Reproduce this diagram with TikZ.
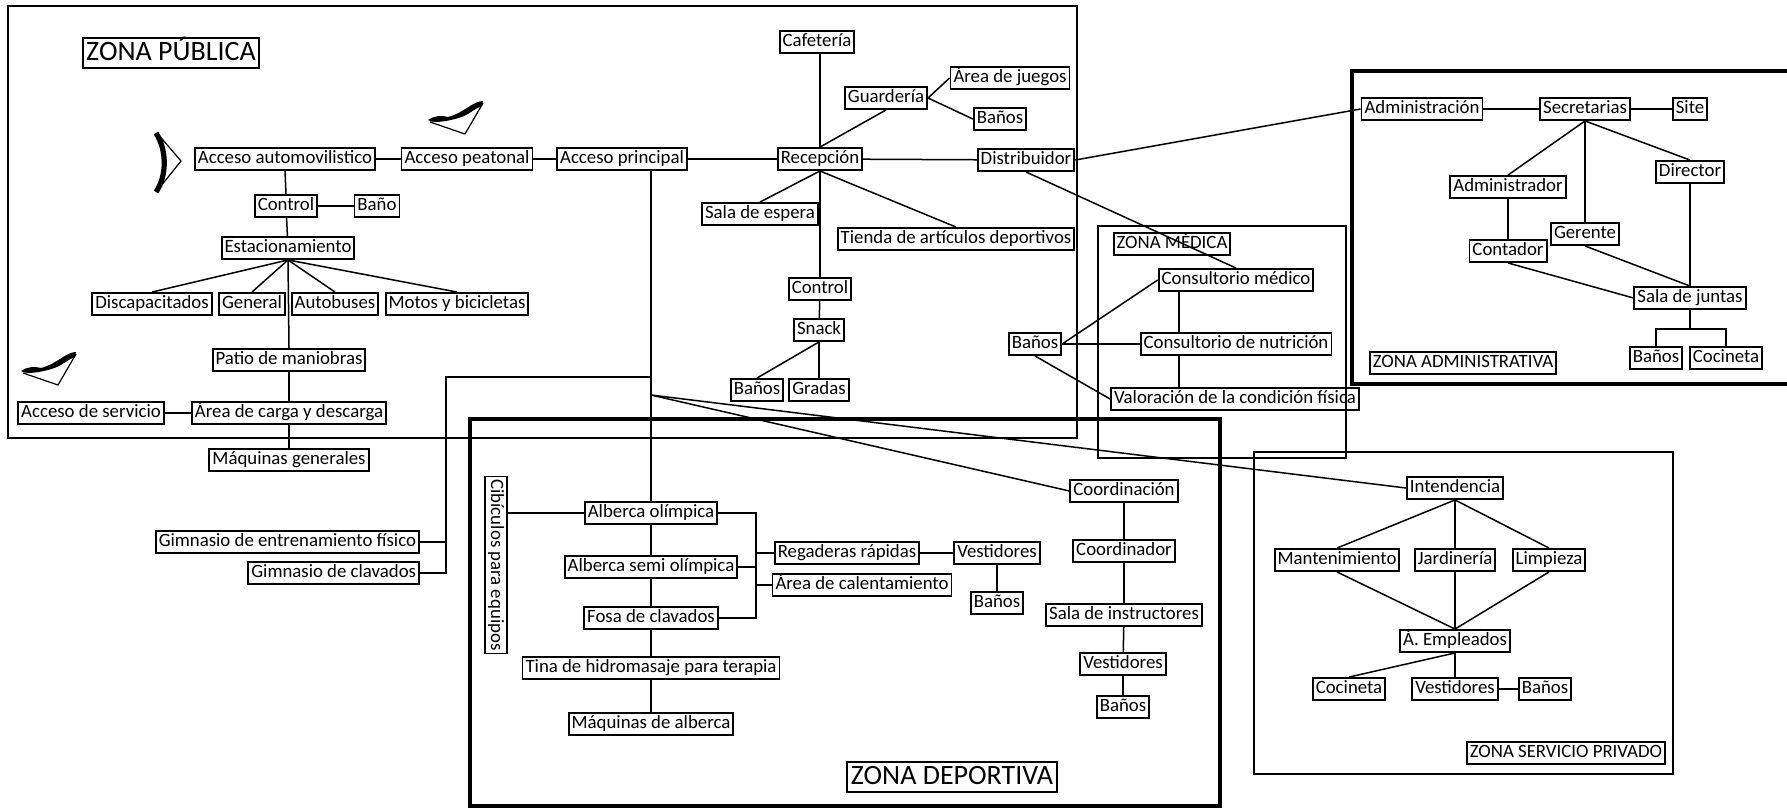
\documentclass[tikz,border=0pt]{standalone}
\usepackage{fontspec}
\setmainfont{Carlito}
\begin{document}
\begin{tikzpicture}[x=0.5pt,y=-0.5pt,
  box/.style={draw,line width=0.95pt,inner xsep=1.5pt,inner ysep=0.9pt,
    text height=7pt,text depth=2.2pt,font=\fontsize{9.4}{11}\selectfont},
  bigbox/.style={draw,line width=0.95pt,inner xsep=1.8pt,inner ysep=0.8pt,
    text height=10.2pt,text depth=3pt,font=\fontsize{14}{16}\selectfont},
  link/.style={line width=0.75pt},
  zone/.style={line width=0.75pt},
  heavy/.style={line width=2.1pt},
  walker/.pic={
    \fill (0,0) .. controls (5,-4) and (14,-5) .. (20,-3)
      .. controls (28,-5) and (36,-10) .. (42,-14)
      .. controls (47,-17) and (51,-19) .. (55,-19) -- (54,-14)
      .. controls (49,-12) and (46,-10) .. (43,-8)
      .. controls (36,-3) and (28,-1) .. (18,1)
      .. controls (10,2) and (5,3) .. (0,0) -- cycle;
    \draw[line width=0.6pt] (2,2) -- (37,14) -- (55,-17);
  },
]
\useasboundingbox (0,0) rectangle (1787,809);

% ---------------- zone frames ----------------
\draw[zone] (8,6) rectangle (1077,438);
\draw[zone] (1098,226) rectangle (1346,458);
\draw[zone] (1254,452) rectangle (1673,774);
\draw[heavy] (470,419) rectangle (1220,806);
\draw[heavy] (1800,71) -- (1352,71) -- (1352,384) -- (1800,384);

% ---------------- entrance symbols ----------------
\draw[line width=0.6pt] (157,133) -- (181,161) -- (157,191);
\draw[line width=2.6pt] (156,133) .. controls (167,150) and (167,176) .. (156,192);
\pic at (428,120) {walker};
\pic at (21,371) {walker};

% ---------------- ZONA PUBLICA ----------------
\node[bigbox] (zpub) at (171,53) {ZONA PÚBLICA};
\node[box] (aauto) at (285,159) {Acceso automovilistico};
\node[box] (apeat) at (467,159) {Acceso peatonal};
\node[box] (aprin) at (622,159) {Acceso principal};
\node[box] (recep) at (820,159) {Recepción};
\node[box] (distr) at (1026,160) {Distribuidor};
\node[box] (cafe) at (817,42) {Cafetería};
\node[box] (guard) at (886,98) {Guardería};
\node[box] (juegos) at (1010,78) {Área de juegos};
\node[box] (banosg) at (1000,119) {Baños};
\node[box] (espera) at (760,214) {Sala de espera};
\node[box] (tienda) at (956,239) {Tienda de artículos deportivos};
\node[box] (ctrlr) at (820,289) {Control};
\node[box] (snack) at (819,330) {Snack};
\node[box] (banosn) at (757,390) {Baños};
\node[box] (gradas) at (819,390) {Gradas};
\node[box] (ctrla) at (286,206) {Control};
\node[box] (bano) at (377,206) {Baño};
\node[box] (estac) at (288,248) {Estacionamiento};
\node[box] (disc) at (152,304) {Discapacitados};
\node[box] (gen) at (252,304) {General};
\node[box] (autob) at (335,304) {Autobuses};
\node[box] (motos) at (457,304) {Motos y bicicletas};
\node[box] (patio) at (289,360) {Patio de maniobras};
\node[box] (carga) at (289,413) {Área de carga y descarga};
\node[box] (aserv) at (91,413) {Acceso de servicio};
\node[box] (maqgen) at (289,460) {Máquinas generales};
\node[box,anchor=east] (gent) at (420,542) {Gimnasio de entrenamiento físico};
\node[box,anchor=east] (gclav) at (420,573) {Gimnasio de clavados};

% ---------------- ZONA DEPORTIVA ----------------
\node[bigbox] (zdep) at (952,777) {ZONA DEPORTIVA};
\node[box,rotate=-90] (cib) at (496,565) {Cibículos para equipos};
\node[box] (alb1) at (651,513) {Alberca olímpica};
\node[box] (alb2) at (651,567) {Alberca semi olímpica};
\node[box] (fosa) at (651,618) {Fosa de clavados};
\node[box] (tina) at (651,668) {Tina de hidromasaje para terapia};
\node[box] (maqalb) at (651,724) {Máquinas de alberca};
\node[box] (regad) at (847,553) {Regaderas rápidas};
\node[box] (calen) at (862,585) {Área de calentamiento};
\node[box] (vestd) at (997,553) {Vestidores};
\node[box] (banosd) at (997,603) {Baños};
\node[box] (coord) at (1124,491) {Coordinación};
\node[box] (coordr) at (1124,551) {Coordinador};
\node[box] (salai) at (1124,615) {Sala de instructores};
\node[box] (vestd2) at (1123,664) {Vestidores};
\node[box] (banosd2) at (1123,707) {Baños};

% ---------------- ZONA MEDICA ----------------
\node[box] (zmed) at (1172,244) {ZONA MÉDICA};
\node[box] (consmed) at (1236,280) {Consultorio médico};
\node[box] (consnut) at (1236,344) {Consultorio de nutrición};
\node[box] (valor) at (1235,399) {Valoración de la condición física};
\node[box] (banosm) at (1035,344) {Baños};

% ---------------- ZONA ADMINISTRATIVA ----------------
\node[box] (zadm) at (1463,363) {ZONA ADMINISTRATIVA};
\node[box] (admin) at (1422,109) {Administración};
\node[box] (secr) at (1585,109) {Secretarias};
\node[box] (site) at (1690,109) {Site};
\node[box] (admr) at (1508,187) {Administrador};
\node[box] (dir) at (1690,172) {Director};
\node[box] (ger) at (1585,234) {Gerente};
\node[box] (cont) at (1508,251) {Contador};
\node[box] (sala) at (1690,298) {Sala de juntas};
\node[box] (banosa) at (1656,358) {Baños};
\node[box] (cocia) at (1726,358) {Cocineta};

% ---------------- ZONA SERVICIO PRIVADO ----------------
\node[box] (zserv) at (1566,753) {ZONA SERVICIO PRIVADO};
\node[box] (intend) at (1455,488) {Intendencia};
\node[box] (mant) at (1337,560) {Mantenimiento};
\node[box] (jard) at (1455,560) {Jardinería};
\node[box] (limp) at (1549,560) {Limpieza};
\node[box] (empl) at (1455,641) {Á. Empleados};
\node[box] (cocis) at (1349,689) {Cocineta};
\node[box] (vests) at (1455,689) {Vestidores};
\node[box] (banoss) at (1545,689) {Baños};

% ---------------- helper points ----------------
\coordinate (gk) at (446,377);
\coordinate (gtop) at (651,377);
\coordinate (hub) at (651,395);
\coordinate (bk) at (756,513);
\coordinate (mv) at (1179,300);
\coordinate (tee) at (1690,329);

% ---------------- connectors: public ----------------
\draw[link] (aauto) -- (apeat);
\draw[link] (apeat) -- (aprin);
\draw[link] (aprin) -- (recep);
\draw[link] (recep) -- (distr);
\draw[link] (aauto.south) -- (ctrla.north);
\draw[link] (ctrla) -- (bano);
\draw[link] (ctrla) -- (estac);
\draw[link] (estac.south) -- (disc.north);
\draw[link] (estac.south) -- (gen.north);
\draw[link] (estac.south) -- (autob.north);
\draw[link] (estac.south) -- (motos.north);
\draw[link] (estac.south) -- (patio.north);
\draw[link] (patio) -- (carga);
\draw[link] (aserv) -- (carga);
\draw[link] (carga) -- (maqgen);
\draw[link] (recep.north) -- (recep.north |- cafe.south);
\draw[link] (recep.north) -- (guard.south);
\draw[link] (guard.east) -- (juegos.west);
\draw[link] (guard.east) -- (banosg.west);
\draw[link] (recep.south) -- (espera.north);
\draw[link] (recep.south) -- (tienda.north);
\draw[link] (recep.south) -- (ctrlr.north);
\draw[link] (ctrlr) -- (snack);
\draw[link] (snack.south) -- (banosn.north);
\draw[link] (snack) -- (gradas);
\draw[link] (distr.east) -- (admin.west);
\draw[link] (distr.south) -- (consmed.north);
\draw[link] (aprin.south -| alb1.north) -- (alb1.north);
\draw[link] (gtop) -- (gk) |- (gclav.east);
\draw[link] (gent.east) -- (gent.east -| gk);
\draw[link] (hub) -- (coord.west);
\draw[link] (hub) -- (intend.west);

% ---------------- connectors: sports ----------------
\draw[link] (alb1.west -| cib.north) -- (alb1.west);
\draw[link] (alb1) -- (alb2);
\draw[link] (alb2) -- (fosa);
\draw[link] (fosa) -- (tina);
\draw[link] (tina) -- (maqalb);
\draw[link] (alb1.east) -- (alb1.east -| bk) |- (fosa.east);
\draw[link] (alb2.east) -- (alb2.east -| bk);
\draw[link] (regad.west -| bk) -- (regad.west);
\draw[link] (calen.west -| bk) -- (calen.west);
\draw[link] (regad) -- (vestd);
\draw[link] (vestd) -- (banosd);
\draw[link] (coord) -- (coordr);
\draw[link] (coordr) -- (salai);
\draw[link] (salai) -- (vestd2);
\draw[link] (vestd2) -- (banosd2);

% ---------------- connectors: medical ----------------
\draw[link] (banosm.east) -- (consmed.west);
\draw[link] (banosm.east) -- (consnut.west);
\draw[link] (banosm.south) -- (valor.west);
\draw[link] (consmed.south -| mv) -- (consnut.north -| mv);
\draw[link] (consnut.south -| mv) -- (valor.north -| mv);

% ---------------- connectors: administration ----------------
\draw[link] (admin) -- (secr);
\draw[link] (secr) -- (site);
\draw[link] (secr.south) -- (admr.north);
\draw[link] (secr.south) -- (ger.north);
\draw[link] (secr.south) -- (dir.north);
\draw[link] (admr.south) -- (cont.north);
\draw[link] (dir.south) -- (sala.north);
\draw[link] (ger.south) -- (sala.north);
\draw[link] (cont.south) -- (sala.west);
\draw[link] (sala.south) -- (tee);
\draw[link] (banosa.north) |- (tee) -| (cocia.north);

% ---------------- connectors: private service ----------------
\draw[link] (intend.south) -- (mant.north);
\draw[link] (intend.south) -- (jard.north);
\draw[link] (intend.south) -- (limp.north);
\draw[link] (mant.south) -- (empl.north);
\draw[link] (jard.south) -- (empl.north);
\draw[link] (limp.south) -- (empl.north);
\draw[link] (empl.south) -- (cocis.north);
\draw[link] (empl.south) -- (vests.north);
\draw[link] (vests) -- (banoss);
\end{tikzpicture}
\end{document}
